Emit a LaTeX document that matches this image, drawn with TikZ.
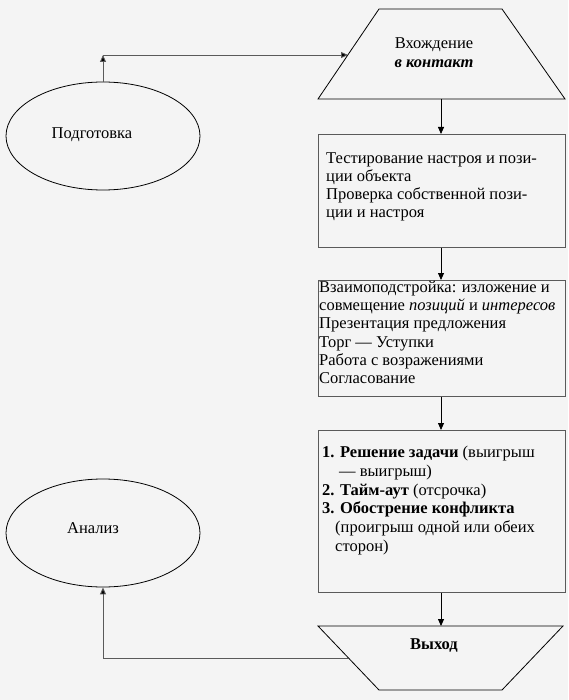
\documentclass[tikz,border=0pt]{standalone}
\usepackage{fontspec}
\setmainfont{Liberation Serif}
\usetikzlibrary{arrows.meta,shapes.geometric}
\definecolor{bg}{RGB}{244,244,244}
\definecolor{dline}{RGB}{90,90,90}
\tikzset{
  oval/.style={draw=black, line width=0.8pt, ellipse, minimum width=194pt, minimum height=108pt, inner sep=0pt},
  boxnode/.style={draw=dline, line width=0.9pt, anchor=north west, inner sep=0pt},
  trap/.style={draw=black, line width=0.8pt},
  txt/.style={inner sep=0pt, anchor=north west, align=left, font=\fontsize{16.5}{18.2}\selectfont},
  ctxt/.style={inner sep=0pt, align=center, font=\fontsize{16.5}{19}\selectfont},
  arr/.style={draw=black, line width=0.8pt, -{Triangle[length=7pt,width=6pt]}},
  garr/.style={draw=dline, line width=0.9pt, -{Triangle[length=7pt,width=6pt,fill=black]}},
  gline/.style={draw=dline, line width=0.9pt}
}
\begin{document}
\begin{tikzpicture}[x=1pt,y=-1pt]
\fill[bg] (0,0) rectangle (568,700);
\useasboundingbox (0,0) rectangle (568,700);

% ellipses
\node[oval] (prep) at (103,136) {};
\node[ctxt] (preptxt) at (92,135) {Подготовка};
\node[oval] (anal) at (103,533) {};
\node[ctxt] (analtxt) at (93,528) {Анализ};

% top trapezoid
\draw[trap] (379,9) -- (502,9) -- (565,99) -- (318,99) -- cycle;
\coordinate (t1bot) at (441,99);
\coordinate (t1left) at (348,55);
\node[ctxt] (t1txt) at (434,53) {Вхождение\\\textbf{\textit{в контакт}}};

% rectangles
\node[boxnode, minimum width=247pt, minimum height=113pt] (r1) at (318,134) {};
\node[txt] (r1txt) at (326,152) {Тестирование настроя и пози-\\ции объекта\\Проверка собственной пози-\\ции и настроя};

\node[boxnode, minimum width=247pt, minimum height=116pt] (r2) at (318,280) {};
\node[txt] (r2txt) at (319,281) {Взаимоподстройка: изложение и\\совмещение \textit{позиций} и \textit{интересов}\\Презентация предложения\\Торг — Уступки\\Работа с возражениями\\Согласование};

\node[boxnode, minimum width=247pt, minimum height=162pt] (r3) at (318,430) {};
\node[txt, font=\fontsize{16.5}{18.7}\selectfont] (r3txt) at (322,446) {\textbf{1. Решение задачи} (выигрыш\\\hspace*{17pt}— выигрыш)\\\textbf{2. Тайм-аут} (отсрочка)\\\textbf{3. Обострение конфликта}\\\hspace*{13pt}(проигрыш одной или обеих\\\hspace*{13pt}сторон)};

% bottom trapezoid
\draw[trap] (318,626) -- (563,626) -- (502,690) -- (379,690) -- cycle;
\coordinate (t2top) at (441,626);
\coordinate (t2left) at (348,658);
\node[ctxt] (t2txt) at (434,646) {\textbf{Выход}};

% connectors
\coordinate (c1) at (prep.north |- t1left);
\draw[garr] (prep.north) -- (c1);
\draw[garr] (c1) -- (t1left);
\draw[arr] (t1bot) -- (t1bot |- r1.north);
\draw[arr] (t1bot |- r1.south) -- (t1bot |- r2.north);
\draw[arr] (t1bot |- r2.south) -- (t1bot |- r3.north);
\draw[arr] (t1bot |- r3.south) -- (t2top);
\coordinate (c2) at (anal.south |- t2left);
\draw[gline] (t2left) -- (c2);
\draw[garr] (c2) -- (anal.south);
\end{tikzpicture}
\end{document}
